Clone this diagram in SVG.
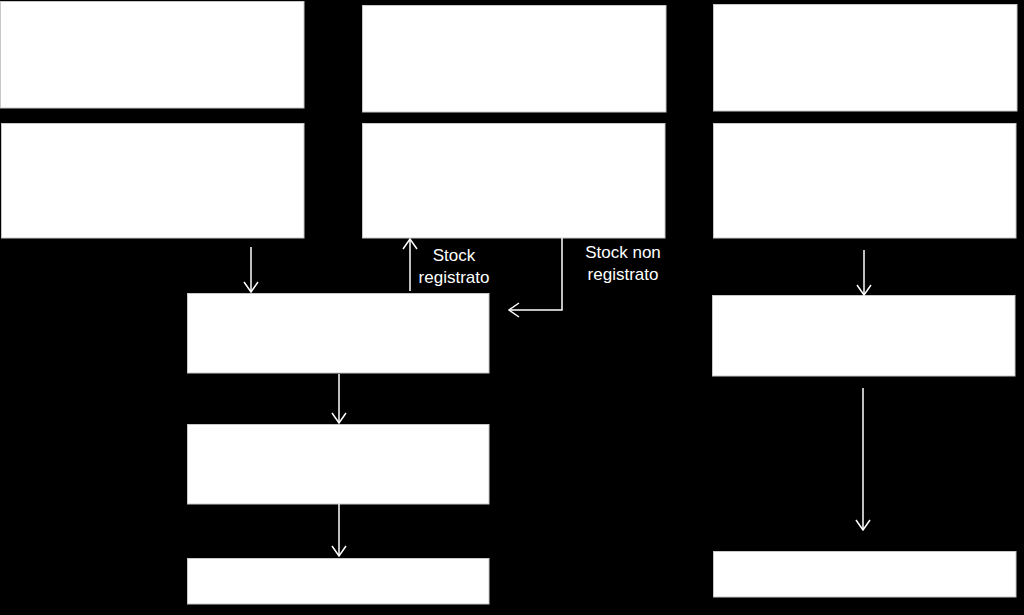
<svg xmlns="http://www.w3.org/2000/svg" width="1024" height="615" viewBox="0 0 1024 615">
<defs>
<style>
.box{fill:#ffffff;stroke:#c8c8c8;stroke-width:1}
.conn{fill:none;stroke:#ffffff;stroke-width:1.5}
.lbl{fill:#ffffff;font-family:"Liberation Sans",Arial,sans-serif;font-size:17px;text-anchor:middle}
</style>
<marker id="arr" viewBox="0 0 12 16" refX="11" refY="8" markerWidth="12" markerHeight="16" markerUnits="userSpaceOnUse" orient="auto">
<path d="M1,1 L11,8 L1,15" fill="none" stroke="#ffffff" stroke-width="1.5"/>
</marker>
</defs>
<rect width="1024" height="615" fill="#000000"/>
<g id="nodeA1"><rect class="box" x="0.5" y="1.5" width="303.5" height="106.5"/></g>
<g id="nodeA2"><rect class="box" x="1.5" y="123.5" width="302.5" height="114.5"/></g>
<g id="nodeB1"><rect class="box" x="362.5" y="5.5" width="303.5" height="106.5"/></g>
<g id="nodeB2"><rect class="box" x="362.5" y="123.5" width="302.5" height="114.5"/></g>
<g id="nodeC1"><rect class="box" x="713.5" y="4.5" width="303.5" height="106.5"/></g>
<g id="nodeC2"><rect class="box" x="713.5" y="123.5" width="302.5" height="114.5"/></g>
<g id="nodeD1"><rect class="box" x="187.5" y="293.5" width="301.5" height="79.5"/></g>
<g id="nodeD2"><rect class="box" x="187.5" y="424.5" width="301.5" height="79.5"/></g>
<g id="nodeD3"><rect class="box" x="187.5" y="558.5" width="301.5" height="45.5"/></g>
<g id="nodeE1"><rect class="box" x="712.5" y="295.5" width="302.5" height="80.5"/></g>
<g id="nodeE2"><rect class="box" x="713.5" y="551.5" width="302.5" height="45.5"/></g>
<g id="connectors">
<line class="conn" x1="251" y1="247" x2="251" y2="292" marker-end="url(#arr)"/>
<line class="conn" x1="410" y1="291" x2="410" y2="239" marker-end="url(#arr)"/>
<polyline class="conn" points="562,238 562,310 509,310" marker-end="url(#arr)"/>
<line class="conn" x1="339" y1="374" x2="339" y2="423" marker-end="url(#arr)"/>
<line class="conn" x1="339" y1="504" x2="339" y2="556" marker-end="url(#arr)"/>
<line class="conn" x1="864" y1="250" x2="864" y2="295" marker-end="url(#arr)"/>
<line class="conn" x1="863" y1="388" x2="863" y2="530" marker-end="url(#arr)"/>
<text class="lbl" x="454" y="261">Stock</text>
<text class="lbl" x="454" y="283">registrato</text>
<text class="lbl" x="623" y="258">Stock non</text>
<text class="lbl" x="623" y="280">registrato</text>
</g>
</svg>
